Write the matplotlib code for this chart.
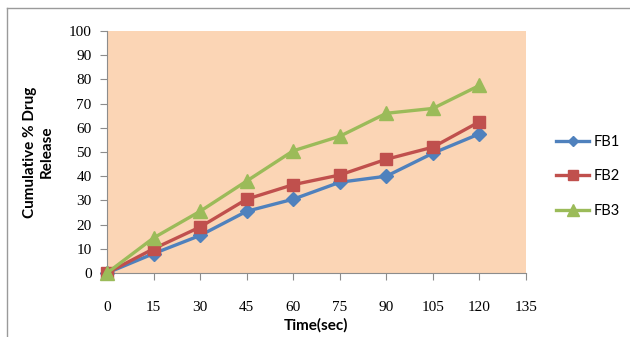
import matplotlib
matplotlib.use("Agg")
import matplotlib.pyplot as plt
from matplotlib.lines import Line2D

time_sec = [0, 15, 30, 45, 60, 75, 90, 105, 120]
fb1 = [0, 8, 15.5, 25.5, 30.5, 37.5, 40, 49.5, 57.5]
fb2 = [0, 10, 19, 30.5, 36.5, 40.5, 47, 52, 62.5]
fb3 = [0, 14.5, 25.5, 38, 50.5, 56.5, 66, 68, 77.5]
series_names = ["FB1", "FB2", "FB3"]
x_ticks = [0, 15, 30, 45, 60, 75, 90, 105, 120, 135]
y_ticks = [0, 10, 20, 30, 40, 50, 60, 70, 80, 90, 100]

W, H = 630, 337
fig = plt.figure(figsize=(W / 100, H / 100), dpi=100)
fig.patch.set_facecolor("white")

# outer chart frame (top and left edges visible)
fig.add_artist(Line2D([7 / W, 1.0], [1 - 8 / H, 1 - 8 / H], color="#9a9a9a", lw=1.0, transform=fig.transFigure))
fig.add_artist(Line2D([7 / W, 7 / W], [0, 1 - 8 / H], color="#9a9a9a", lw=1.0, transform=fig.transFigure))

left, right, top, bottom = 107, 526, 31, 273
ax = fig.add_axes([left / W, 1 - bottom / H, (right - left) / W, (bottom - top) / H])
ax.set_facecolor("#FBD5B5")

colors = ["#4F81BD", "#C0504D", "#9BBB59"]
markers = ["D", "s", "^"]
msizes = [7, 9, 10]
for vals, name, c, m, ms in zip([fb1, fb2, fb3], series_names, colors, markers, msizes):
    ax.plot(time_sec, vals, color=c, lw=2.4, marker=m, markersize=ms,
            markerfacecolor=c, markeredgecolor=c, label=name, clip_on=False, zorder=3)

ax.set_xlim(0, 135)
ax.set_ylim(0, 100)
ax.set_xticks(x_ticks)
ax.set_yticks(y_ticks)
for s in ["top", "right"]:
    ax.spines[s].set_visible(False)
for s in ["left", "bottom"]:
    ax.spines[s].set_color("#8c8c8c")
    ax.spines[s].set_linewidth(0.8)
ax.tick_params(axis="both", direction="out", length=5, color="#8c8c8c", width=0.8,
               labelsize=11)
ax.tick_params(axis="x", pad=15)
ax.tick_params(axis="y", pad=6)
for lab in ax.get_xticklabels() + ax.get_yticklabels():
    lab.set_family("Liberation Serif")

ax.set_xlabel("Time(sec)", fontsize=11, fontweight="bold", family="Lato", labelpad=3)
ax.set_ylabel("Cumulative % Drug\nRelease", fontsize=11, fontweight="bold", family="Lato",
              labelpad=11, linespacing=1.25)

leg = ax.legend(loc="center left", bbox_to_anchor=(1.04, 0.40), frameon=False,
                prop={"family": "Lato", "size": 10.5}, handlelength=2.3, labelspacing=1.4,
                handletextpad=0.3, markerscale=0.8)

fig.savefig("out.png", dpi=100)
